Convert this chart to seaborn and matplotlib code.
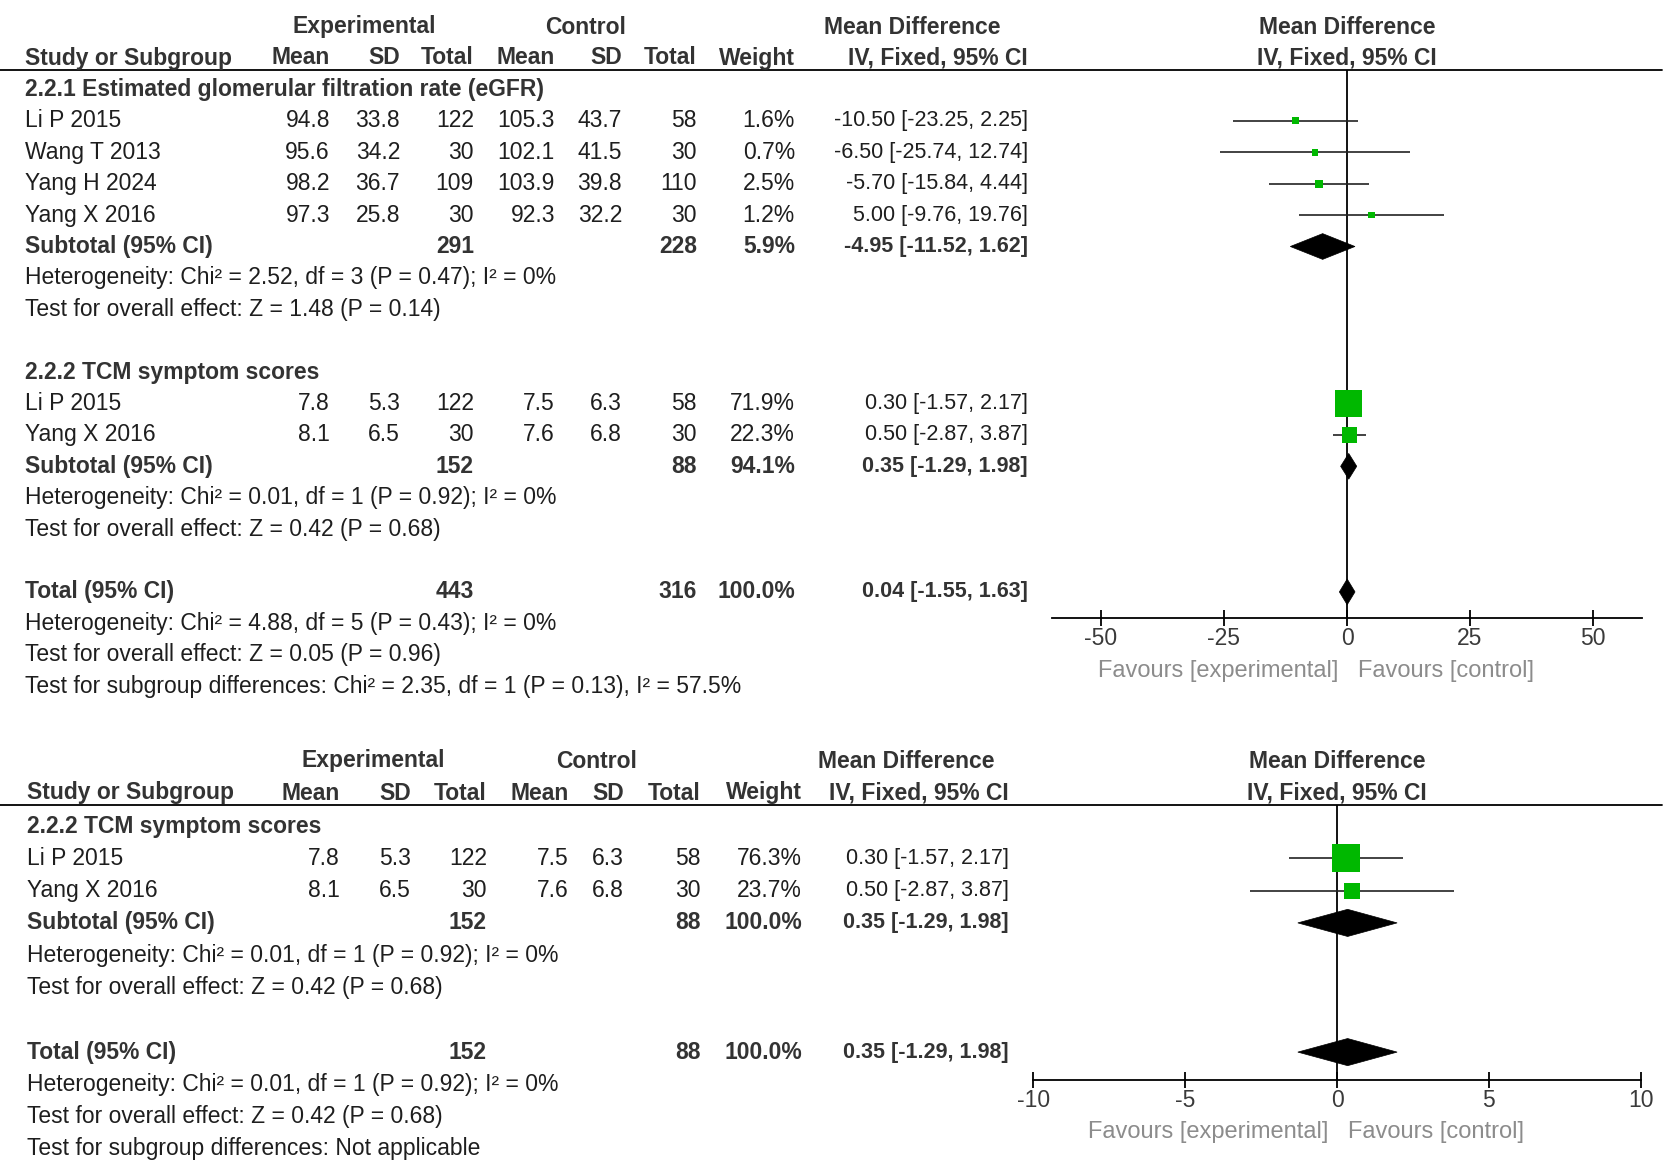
import numpy as np
import pandas as pd
import seaborn as sns
import matplotlib.pyplot as plt
from matplotlib.patches import Polygon

# ---- data ----
egfr_study = ["Li P 2015", "Wang T 2013", "Yang H 2024", "Yang X 2016"]
egfr_exp_mean = [94.8, 95.6, 98.2, 97.3]
egfr_exp_sd = [33.8, 34.2, 36.7, 25.8]
egfr_exp_n = [122, 30, 109, 30]
egfr_ctl_mean = [105.3, 102.1, 103.9, 92.3]
egfr_ctl_sd = [43.7, 41.5, 39.8, 32.2]
egfr_ctl_n = [58, 30, 110, 30]
egfr_weight = [1.6, 0.7, 2.5, 1.2]
egfr_md = [-10.50, -6.50, -5.70, 5.00]
egfr_lo = [-23.25, -25.74, -15.84, -9.76]
egfr_hi = [2.25, 12.74, 4.44, 19.76]

tcm_study = ["Li P 2015", "Yang X 2016"]
tcm_exp_mean = [7.8, 8.1]
tcm_exp_sd = [5.3, 6.5]
tcm_exp_n = [122, 30]
tcm_ctl_mean = [7.5, 7.6]
tcm_ctl_sd = [6.3, 6.8]
tcm_ctl_n = [58, 30]
tcm_weight_a = [71.9, 22.3]     # weights in the combined analysis
tcm_weight_b = [76.3, 23.7]     # weights in the TCM-only analysis
tcm_md = [0.30, 0.50]
tcm_lo = [-1.57, -2.87]
tcm_hi = [2.17, 3.87]

# pooled: [exp total, ctl total, weight, md, lo, hi]
egfr_sub = [291, 228, 5.9, -4.95, -11.52, 1.62]
tcm_sub_a = [152, 88, 94.1, 0.35, -1.29, 1.98]
total_a = [443, 316, 100.0, 0.04, -1.55, 1.63]
tcm_sub_b = [152, 88, 100.0, 0.35, -1.29, 1.98]
total_b = [152, 88, 100.0, 0.35, -1.29, 1.98]

egfr_notes = ["Heterogeneity: Chi² = 2.52, df = 3 (P = 0.47); I² = 0%",
              "Test for overall effect: Z = 1.48 (P = 0.14)"]
tcm_notes = ["Heterogeneity: Chi² = 0.01, df = 1 (P = 0.92); I² = 0%",
             "Test for overall effect: Z = 0.42 (P = 0.68)"]
total_notes_a = ["Heterogeneity: Chi² = 4.88, df = 5 (P = 0.43); I² = 0%",
                 "Test for overall effect: Z = 0.05 (P = 0.96)",
                 "Test for subgroup differences: Chi² = 2.35, df = 1 (P = 0.13), I² = 57.5%"]
total_notes_b = ["Heterogeneity: Chi² = 0.01, df = 1 (P = 0.92); I² = 0%",
                 "Test for overall effect: Z = 0.42 (P = 0.68)",
                 "Test for subgroup differences: Not applicable"]

ticks_a = [-50, -25, 0, 25, 50]
ticks_b = [-10, -5, 0, 5, 10]

sns.set_theme(style="white")
plt.rcParams["font.family"] = ["Liberation Sans", "DejaVu Sans"]
plt.rcParams["axes.unicode_minus"] = False

W, H = 1666, 1165
TXT = "#1e1e1e"
GREEN = "#00b800"
FS = 16.5      # table text
FS_CI = 15.5   # effect/CI column
FS_HEAD = 16.5
SQ = 5.2       # marker area (pt^2) per % weight
SQ_MIN = 18

fig = plt.figure(figsize=(W / 100, H / 100), dpi=100)
canvas = fig.add_axes([0, 0, 1, 1])
canvas.set_xlim(0, W)
canvas.set_ylim(H, 0)
canvas.axis("off")


def ci_text(md, lo, hi):
    return f"{md:.2f} [{lo:.2f}, {hi:.2f}]"


def build_rows(blocks, total, total_notes):
    """Turn the data into table rows and forest marks (row index based)."""
    rows, studies, diamonds = [], [], []
    r = 0
    for title, st, em, es, en, cm, cs, cn, w, md, lo, hi, sub, notes in blocks:
        rows.append((r, "head", title, None))
        r += 1
        for i in range(len(st)):
            cells = [f"{em[i]:.1f}", f"{es[i]:.1f}", str(en[i]), f"{cm[i]:.1f}",
                     f"{cs[i]:.1f}", str(cn[i]), f"{w[i]:.1f}%",
                     ci_text(md[i], lo[i], hi[i])]
            rows.append((r, "study", st[i], cells))
            studies.append((r, md[i], lo[i], hi[i], w[i]))
            r += 1
        cells = ["", "", str(sub[0]), "", "", str(sub[1]), f"{sub[2]:.1f}%",
                 ci_text(sub[3], sub[4], sub[5])]
        rows.append((r, "sub", "Subtotal (95% CI)", cells))
        diamonds.append((r, sub[3], sub[4], sub[5]))
        r += 1
        for n in notes:
            rows.append((r, "note", n, None))
            r += 1
        r += 1
    cells = ["", "", str(total[0]), "", "", str(total[1]), f"{total[2]:.1f}%",
             ci_text(total[3], total[4], total[5])]
    rows.append((r, "sub", "Total (95% CI)", cells))
    diamonds.append((r, total[3], total[4], total[5]))
    r += 1
    for n in total_notes:
        rows.append((r, "note", n, None))
        r += 1
    sdf = pd.DataFrame(studies, columns=["row", "md", "lo", "hi", "weight"])
    ddf = pd.DataFrame(diamonds, columns=["row", "md", "lo", "hi"])
    return rows, sdf, ddf


def draw_panel(lay, rows, sdf, ddf, xlim, ticks):
    y0, dy = lay["y0"], lay["dy"]
    ry = lambda k: y0 + dy * k
    hk = dict(fontsize=FS_HEAD, color="#333333", fontweight="bold", va="center")
    # group headers
    canvas.text(lay["exp_c"], lay["h1"], "Experimental", ha="center", **hk)
    canvas.text(lay["ctl_c"], lay["h1"], "Control", ha="center", **hk)
    canvas.text(lay["md_c"], lay["h1"], "Mean Difference", ha="center", **hk)
    canvas.text(lay["zero"], lay["h1"], "Mean Difference", ha="center", **hk)
    canvas.text(lay["label_x"], lay["h2"], "Study or Subgroup", ha="left", **hk)
    names = ["Mean", "SD", "Total", "Mean", "SD", "Total", "Weight", "IV, Fixed, 95% CI"]
    for x, n in zip(lay["cols"], names):
        canvas.text(x, lay["h2"], n, ha="right", **hk)
    canvas.text(lay["zero"], lay["h2"], "IV, Fixed, 95% CI", ha="center", **hk)
    canvas.plot([0, 1662], [lay["rule"], lay["rule"]], color="black", lw=1.3)

    for r, kind, label, cells in rows:
        bold = kind in ("head", "sub")
        col = "#333333" if bold else TXT
        fw = "bold" if bold else "normal"
        canvas.text(lay["label_x"], ry(r), label, ha="left", va="center", fontsize=FS,
                    color=col, fontweight=fw)
        if cells:
            for j, (x, c) in enumerate(zip(lay["cols"], cells)):
                canvas.text(x, ry(r), c, ha="right", va="center",
                            fontsize=FS_CI if j == 7 else FS, color=col, fontweight=fw)

    # forest axes, rows share the table's vertical scale
    x0, x1 = lay["zero"] + xlim[0] * lay["ppu"], lay["zero"] + xlim[1] * lay["ppu"]
    top, bot = lay["rule"], lay["axis"]
    ax = fig.add_axes([x0 / W, 1 - bot / H, (x1 - x0) / W, (bot - top) / H])
    ax.set_facecolor("none")
    ax.set_xlim(xlim)
    ax.set_ylim((bot - y0) / dy, (top - y0) / dy)
    ax.axvline(0, color="black", lw=1.3, zorder=1)
    ax.hlines(sdf["row"], sdf["lo"], sdf["hi"], color="#222222", lw=1.2, zorder=2)
    wmax = sdf["weight"].max()
    sns.scatterplot(data=sdf, x="md", y="row", size="weight",
                    sizes=(SQ_MIN, SQ * wmax), size_norm=(0, wmax), marker="s",
                    color=GREEN, edgecolor="none", legend=False, ax=ax, zorder=3)
    for _, d in ddf.iterrows():
        h = lay["dh"]
        ax.add_patch(Polygon([[d.lo, d.row], [d.md, d.row - h], [d.hi, d.row],
                              [d.md, d.row + h]], closed=True, fc="black", ec="black",
                             lw=0.5, zorder=4))
    for s in ["top", "left", "right"]:
        ax.spines[s].set_visible(False)
    ax.spines["bottom"].set_color("black")
    ax.spines["bottom"].set_linewidth(1.3)
    ax.set_yticks([])
    ax.set_xticks(ticks)
    ax.set_xticklabels([str(t) for t in ticks])
    ax.tick_params(axis="x", direction="inout", length=11, width=1.3, color="black",
                   labelcolor="#3a3a3a", labelsize=16.5, pad=1, bottom=True)
    ax.set_xlabel("")
    ax.set_ylabel("")
    fk = dict(fontsize=17, color="#8c8c8c", va="center")
    canvas.text(lay["zero"] - 9, lay["fav"], "Favours [experimental]", ha="right", **fk)
    canvas.text(lay["zero"] + 11, lay["fav"], "Favours [control]", ha="left", **fk)


# ---- top panel: both outcomes ----
rows_a, sdf_a, ddf_a = build_rows(
    [("2.2.1 Estimated glomerular filtration rate (eGFR)", egfr_study, egfr_exp_mean,
      egfr_exp_sd, egfr_exp_n, egfr_ctl_mean, egfr_ctl_sd, egfr_ctl_n, egfr_weight,
      egfr_md, egfr_lo, egfr_hi, egfr_sub, egfr_notes),
     ("2.2.2 TCM symptom scores", tcm_study, tcm_exp_mean, tcm_exp_sd, tcm_exp_n,
      tcm_ctl_mean, tcm_ctl_sd, tcm_ctl_n, tcm_weight_a, tcm_md, tcm_lo, tcm_hi,
      tcm_sub_a, tcm_notes)],
    total_a, total_notes_a)
lay_a = dict(y0=89.5, dy=31.4, h1=27, h2=58, rule=70, axis=618, fav=671,
             label_x=25, cols=[330, 400, 474, 555, 622, 697, 795, 1028],
             exp_c=364, ctl_c=586, md_c=912, zero=1347, ppu=4.92, dh=0.41)
draw_panel(lay_a, rows_a, sdf_a, ddf_a, (-60, 60), ticks_a)

# ---- bottom panel: TCM symptom scores only ----
rows_b, sdf_b, ddf_b = build_rows(
    [("2.2.2 TCM symptom scores", tcm_study, tcm_exp_mean, tcm_exp_sd, tcm_exp_n,
      tcm_ctl_mean, tcm_ctl_sd, tcm_ctl_n, tcm_weight_b, tcm_md, tcm_lo, tcm_hi,
      tcm_sub_b, tcm_notes)],
    total_b, total_notes_b)
lay_b = dict(y0=826, dy=32.3, h1=761, h2=793, rule=805, axis=1080, fav=1132,
             label_x=27, cols=[340, 411, 487, 569, 624, 701, 802, 1009],
             exp_c=373, ctl_c=597, md_c=906, zero=1337, ppu=30.36, dh=0.42)
draw_panel(lay_b, rows_b, sdf_b, ddf_b, (-10, 10), ticks_b)

fig.savefig("out.png", dpi=100, facecolor="white")
